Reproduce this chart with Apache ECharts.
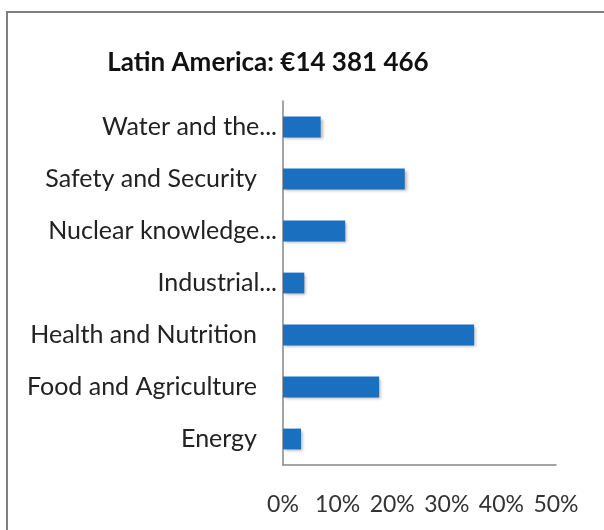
<!DOCTYPE html>
<html>
<head>
<meta charset="utf-8">
<script src="https://cdn.jsdelivr.net/npm/echarts@6/dist/echarts.min.js"></script>
<style>
html,body{margin:0;padding:0;background:#fff;}
#c{width:604px;height:530px;}
</style>
</head>
<body>
<div id="c"></div>
<script>
var titleText = 'Latin America: €14 381 466';
var categories = ['Energy', 'Food and Agriculture', 'Health and Nutrition', 'Industrial...', 'Nuclear knowledge...', 'Safety and Security', 'Water and the...'];
var shares = [3.3, 17.6, 35.0, 3.9, 11.4, 22.3, 6.9];
var xTicks = [0, 10, 20, 30, 40, 50];

var FONT = 'Lato';
var chart = echarts.init(document.getElementById('c'));
chart.setOption({
  animation: false,
  backgroundColor: '#fff',
  graphic: [{
    type: 'rect',
    shape: {x: 7, y: 12, width: 640, height: 560},
    style: {fill: 'none', stroke: '#7f7f7f', lineWidth: 2},
    silent: true,
    z: -1
  }],
  title: {
    text: titleText,
    left: 263,
    top: 45,
    textAlign: 'center',
    textStyle: {fontFamily: FONT, fontWeight: 'bold', fontSize: 26, color: '#111111'}
  },
  grid: {left: 283, right: 48, top: 101, bottom: 65, containLabel: false},
  xAxis: {
    type: 'value',
    min: xTicks[0],
    max: xTicks[xTicks.length - 1],
    interval: 10,
    axisLine: {show: true, lineStyle: {color: '#868686', width: 1.5}},
    axisTick: {show: false},
    splitLine: {show: false},
    axisLabel: {
      formatter: '{value}%',
      margin: 28,
      fontFamily: FONT,
      fontSize: 23,
      color: '#333333'
    }
  },
  yAxis: {
    type: 'category',
    data: categories,
    axisLine: {show: true, lineStyle: {color: '#868686', width: 1.5}},
    axisTick: {show: false},
    axisLabel: {
      margin: 6,
      fontFamily: FONT,
      fontSize: 25,
      color: '#222222',
      formatter: function (v) {
        return /\.\.\.$/.test(v) ? '{e|' + v + '}' : '{n|' + v + '}';
      },
      rich: {
        e: {fontFamily: FONT, fontSize: 25, color: '#222222'},
        n: {fontFamily: FONT, fontSize: 25, color: '#222222', padding: [0, 20, 0, 0]}
      }
    }
  },
  series: [{
    type: 'bar',
    data: shares,
    barCategoryGap: '60%',
    itemStyle: {
      color: '#1a6fbf',
      shadowColor: 'rgba(0,0,0,0.3)',
      shadowBlur: 3,
      shadowOffsetX: 2,
      shadowOffsetY: 2
    }
  }]
});
</script>
</body>
</html>
